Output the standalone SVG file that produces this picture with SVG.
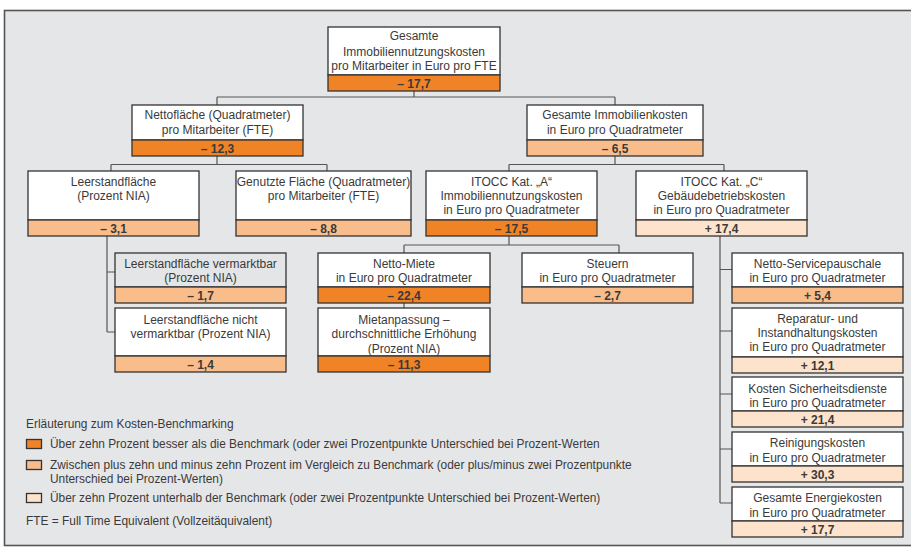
<svg xmlns="http://www.w3.org/2000/svg" width="911" height="548" viewBox="0 0 911 548">
<style>
text{font-family:"Liberation Sans",Arial,sans-serif;fill:#3a3a3a}
.t{font-size:12px;text-anchor:middle}
.v{font-size:12px;font-weight:bold;text-anchor:middle}
.l{font-size:11.9px}
.box{fill:#fff;stroke:#333;stroke-width:1.3}
.gbox{fill:#e4e5e7;stroke:#333;stroke-width:1.3}
.d{fill:#f08326;stroke:#333;stroke-width:1.3}
.m{fill:#f9bd8b;stroke:#333;stroke-width:1.3}
.lt{fill:#fde3cb;stroke:#333;stroke-width:1.3}
.c{fill:none;stroke:#555;stroke-width:1.2}
</style>
<rect x="4.5" y="10.5" width="920" height="535" fill="#e5e6e8" stroke="#555" stroke-width="1.6"/>
<g id="connectors" class="c">
<path d="M414 91V97M217 97H615M217 97V105M615 97V105"/>
<path d="M217 156V164.5M111 164.5H327M111 164.5V171M327 164.5V171"/>
<path d="M615 156V164.5M509 164.5H724M509 164.5V171M724 164.5V171"/>
<path d="M107 236V332M107 272H115M107 332H115"/>
<path d="M509 236V245M404 245H619M404 245V253M619 245V253M404 303V308"/>
<path d="M720 236V503M720 269.5H732M720 331H732M720 394H732M720 449H732M720 503H732"/>
</g>
<g id="n_root">
<rect class="box" x="328" y="27" width="172" height="48"/>
<rect class="d" x="328" y="75" width="172" height="16"/>
<text class="t" x="414" y="40">Gesamte</text>
<text class="t" x="414" y="55.5">Immobiliennutzungskosten</text>
<text class="t" x="414" y="70">pro Mitarbeiter in Euro pro FTE</text>
<text class="v" x="414" y="87.5">– 17,7</text>
</g>
<g id="n_netto">
<rect class="box" x="132" y="105" width="171" height="35"/>
<rect class="d" x="132" y="140" width="171" height="16"/>
<text class="t" x="217.5" y="119">Nettofläche (Quadratmeter)</text>
<text class="t" x="217.5" y="134">pro Mitarbeiter (FTE)</text>
<text class="v" x="217.5" y="152.5">– 12,3</text>
</g>
<g id="n_immo">
<rect class="box" x="527" y="105" width="176" height="35"/>
<rect class="m" x="527" y="140" width="176" height="16"/>
<text class="t" x="615" y="119">Gesamte Immobilienkosten</text>
<text class="t" x="615" y="134">in Euro pro Quadratmeter</text>
<text class="v" x="615" y="152.5">– 6,5</text>
</g>
<g id="n_leer">
<rect class="box" x="28" y="171" width="171" height="49"/>
<rect class="m" x="28" y="220" width="171" height="16"/>
<text class="t" x="113.5" y="186">Leerstandfläche</text>
<text class="t" x="113.5" y="200">(Prozent NIA)</text>
<text class="v" x="113.5" y="232.5">– 3,1</text>
</g>
<g id="n_genutzt">
<rect class="box" x="236" y="171" width="175" height="49"/>
<rect class="m" x="236" y="220" width="175" height="16"/>
<text class="t" x="323.5" y="186">Genutzte Fläche (Quadratmeter)</text>
<text class="t" x="323.5" y="200">pro Mitarbeiter (FTE)</text>
<text class="v" x="323.5" y="232.5">– 8,8</text>
</g>
<g id="n_itocc_a">
<rect class="box" x="426" y="171" width="171" height="49"/>
<rect class="d" x="426" y="220" width="171" height="16"/>
<text class="t" x="511.5" y="186">ITOCC Kat. „A“</text>
<text class="t" x="511.5" y="200">Immobiliennutzungskosten</text>
<text class="t" x="511.5" y="214">in Euro pro Quadratmeter</text>
<text class="v" x="511.5" y="232.5">– 17,5</text>
</g>
<g id="n_itocc_c">
<rect class="box" x="636" y="171" width="171" height="49"/>
<rect class="lt" x="636" y="220" width="171" height="16"/>
<text class="t" x="721.5" y="186">ITOCC Kat. „C“</text>
<text class="t" x="721.5" y="200">Gebäudebetriebskosten</text>
<text class="t" x="721.5" y="214">in Euro pro Quadratmeter</text>
<text class="v" x="721.5" y="232.5">+ 17,4</text>
</g>
<g id="n_leer_verm">
<rect class="gbox" x="115" y="253" width="171" height="34"/>
<rect class="m" x="115" y="287" width="171" height="16"/>
<text class="t" x="200.5" y="267.5">Leerstandfläche vermarktbar</text>
<text class="t" x="200.5" y="281.5">(Prozent NIA)</text>
<text class="v" x="200.5" y="299.5">– 1,7</text>
</g>
<g id="n_leer_nicht">
<rect class="box" x="115" y="308" width="171" height="48"/>
<rect class="m" x="115" y="356" width="171" height="16"/>
<text class="t" x="200.5" y="323.5">Leerstandfläche nicht</text>
<text class="t" x="200.5" y="338">vermarktbar (Prozent NIA)</text>
<text class="v" x="200.5" y="368.5">– 1,4</text>
</g>
<g id="n_miete">
<rect class="box" x="318" y="253" width="172" height="34"/>
<rect class="d" x="318" y="287" width="172" height="16"/>
<text class="t" x="404" y="267.5">Netto-Miete</text>
<text class="t" x="404" y="281.5">in Euro pro Quadratmeter</text>
<text class="v" x="404" y="299.5">– 22,4</text>
</g>
<g id="n_mietanp">
<rect class="box" x="318" y="308" width="172" height="48"/>
<rect class="d" x="318" y="356" width="172" height="16"/>
<text class="t" x="404" y="323.5">Mietanpassung –</text>
<text class="t" x="404" y="338">durchschnittliche Erhöhung</text>
<text class="t" x="404" y="352.5">(Prozent NIA)</text>
<text class="v" x="404" y="368.5">– 11,3</text>
</g>
<g id="n_steuern">
<rect class="box" x="522" y="253" width="171" height="34"/>
<rect class="m" x="522" y="287" width="171" height="16"/>
<text class="t" x="607.5" y="267.5">Steuern</text>
<text class="t" x="607.5" y="281.5">in Euro pro Quadratmeter</text>
<text class="v" x="607.5" y="299.5">– 2,7</text>
</g>
<g id="n_service">
<rect class="box" x="732" y="253" width="171" height="34"/>
<rect class="m" x="732" y="287" width="171" height="16"/>
<text class="t" x="817.5" y="267.5">Netto-Servicepauschale</text>
<text class="t" x="817.5" y="281.5">in Euro pro Quadratmeter</text>
<text class="v" x="817.5" y="299.5">+ 5,4</text>
</g>
<g id="n_reparatur">
<rect class="box" x="732" y="308" width="171" height="49"/>
<rect class="lt" x="732" y="357" width="171" height="16"/>
<text class="t" x="817.5" y="322.5">Reparatur- und</text>
<text class="t" x="817.5" y="336.5">Instandhaltungskosten</text>
<text class="t" x="817.5" y="351">in Euro pro Quadratmeter</text>
<text class="v" x="817.5" y="369.5">+ 12,1</text>
</g>
<g id="n_sicherheit">
<rect class="box" x="732" y="377" width="171" height="34"/>
<rect class="lt" x="732" y="411" width="171" height="16"/>
<text class="t" x="817.5" y="392.5">Kosten Sicherheitsdienste</text>
<text class="t" x="817.5" y="407">in Euro pro Quadratmeter</text>
<text class="v" x="817.5" y="423.5">+ 21,4</text>
</g>
<g id="n_reinigung">
<rect class="box" x="732" y="432" width="171" height="34"/>
<rect class="lt" x="732" y="466" width="171" height="16"/>
<text class="t" x="817.5" y="447">Reinigungskosten</text>
<text class="t" x="817.5" y="461.5">in Euro pro Quadratmeter</text>
<text class="v" x="817.5" y="478.5">+ 30,3</text>
</g>
<g id="n_energie">
<rect class="box" x="732" y="487" width="171" height="34"/>
<rect class="lt" x="732" y="521" width="171" height="16"/>
<text class="t" x="817.5" y="502">Gesamte Energiekosten</text>
<text class="t" x="817.5" y="516.5">in Euro pro Quadratmeter</text>
<text class="v" x="817.5" y="533.5">+ 17,7</text>
</g>
<g id="legend">
<text class="l" x="26" y="428">Erläuterung zum Kosten-Benchmarking</text>
<rect class="d" x="26.5" y="439.5" width="15" height="9"/>
<text class="l" x="50" y="448">Über zehn Prozent besser als die Benchmark (oder zwei Prozentpunkte Unterschied bei Prozent-Werten</text>
<rect class="m" x="26.5" y="460.5" width="15" height="9"/>
<text class="l" x="50" y="469">Zwischen plus zehn und minus zehn Prozent im Vergleich zu Benchmark (oder plus/minus zwei Prozentpunkte</text>
<text class="l" x="50" y="483">Unterschied bei Prozent-Werten)</text>
<rect class="lt" x="26.5" y="493.5" width="15" height="9"/>
<text class="l" x="50" y="502">Über zehn Prozent unterhalb der Benchmark (oder zwei Prozentpunkte Unterschied bei Prozent-Werten)</text>
<text class="l" x="26" y="525">FTE = Full Time Equivalent (Vollzeitäquivalent)</text>
</g>
</svg>
